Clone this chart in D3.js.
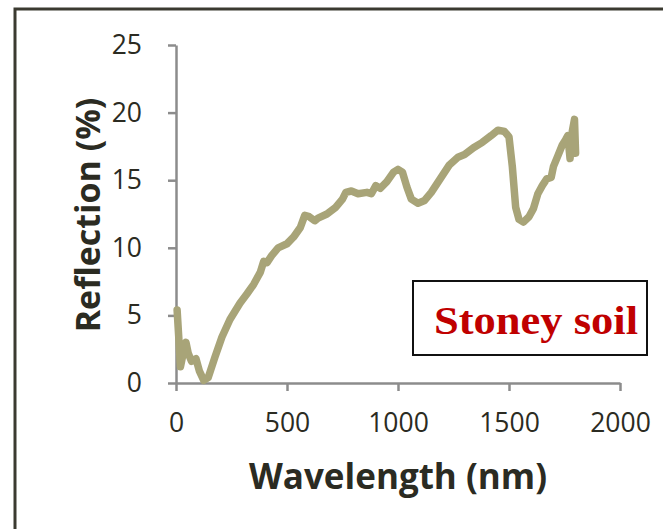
<!DOCTYPE html>
<html><head><meta charset="utf-8">
<script src="https://cdn.jsdelivr.net/npm/d3@7"></script>
<style>
html,body{margin:0;padding:0;background:#fff;}
svg{display:block;}
</style></head><body>
<svg id="c" width="663" height="529"></svg>
<script>
const wavelength = [5,12,20,30,45,55,70,90,105,125,145,175,207,243,288,320,350,380,395,410,430,460,500,530,560,580,600,625,640,680,720,750,765,790,820,860,880,900,920,950,980,1000,1020,1040,1060,1090,1120,1150,1190,1230,1270,1300,1340,1380,1420,1450,1480,1500,1515,1530,1545,1565,1590,1610,1630,1650,1670,1690,1700,1720,1740,1755,1765,1775,1785,1795,1800];
const reflection = [5.4,3.5,1.2,2.0,3.0,2.2,1.6,1.8,0.9,0.2,0.4,1.9,3.4,4.7,5.9,6.6,7.3,8.2,9.0,8.9,9.4,10.0,10.3,10.8,11.5,12.4,12.3,12.0,12.2,12.5,13.0,13.6,14.1,14.2,14.0,14.1,14.0,14.6,14.4,14.9,15.6,15.8,15.6,14.5,13.6,13.3,13.5,14.1,15.1,16.1,16.7,16.9,17.4,17.8,18.3,18.7,18.6,18.2,16.0,13.0,12.1,11.9,12.3,12.9,14.0,14.6,15.1,15.2,16.0,16.8,17.6,18.0,18.3,16.6,18.6,19.5,17.0];
const xTicks = [0,500,1000,1500,2000];
const yTicks = [0,5,10,15,20,25];
const xTitle = "Wavelength (nm)";
const yTitle = "Reflection (%)";
const label = "Stoney soil";

const svg = d3.select("#c");
svg.append("path").attr("d","M15,529 L15,9 L663,9").attr("fill","none").attr("stroke","#3b3a30").attr("stroke-width",3);

const x = d3.scaleLinear().domain([0,2000]).range([176,620]);
const y = d3.scaleLinear().domain([0,25]).range([383,45]);

const tickFont = "Open Sans, Lato, sans-serif";
const gx = svg.append("g").attr("transform","translate(0,383)")
  .call(d3.axisBottom(x).tickValues(xTicks).tickSize(8).tickSizeOuter(0).tickPadding(22).tickFormat(d3.format("d")));
const gy = svg.append("g").attr("transform","translate(176,0)")
  .call(d3.axisLeft(y).tickValues(yTicks).tickSize(8).tickSizeOuter(0).tickPadding(26).tickFormat(d3.format("d")));
[gx,gy].forEach(g=>{
  g.select(".domain").attr("stroke","#8c8c8c").attr("stroke-width",2.5);
  g.selectAll(".tick line").attr("stroke","#8c8c8c").attr("stroke-width",2.5);
  g.selectAll(".tick text").attr("fill","#2b2b22").style("font-family",tickFont).style("font-size","26.5px");
});

const data = wavelength.map((w,i)=>({w, r:reflection[i]}));
svg.append("path").datum(data)
  .attr("fill","none").attr("stroke","#a8a478").attr("stroke-width",7.5)
  .attr("stroke-linejoin","round").attr("stroke-linecap","round")
  .attr("d", d3.line().x(d=>x(d.w)).y(d=>y(d.r)));

svg.append("text").attr("x",398).attr("y",489).attr("text-anchor","middle")
  .style("font-family",tickFont).style("font-weight","bold").style("font-size","35px").attr("fill","#2b2b22").text(xTitle);
svg.append("text").attr("transform","translate(100,215) rotate(-90)").attr("text-anchor","middle")
  .style("font-family",tickFont).style("font-weight","bold").style("font-size","34px").attr("fill","#2b2b22").text(yTitle);

svg.append("rect").attr("x",413).attr("y",281).attr("width",234).attr("height",74)
  .attr("fill","#fff").attr("stroke","#111").attr("stroke-width",2);
svg.append("text").attr("x",434).attr("y",334).attr("textLength",204).attr("lengthAdjust","spacingAndGlyphs")
  .style("font-family","Liberation Serif, serif").style("font-weight","bold").style("font-size","40px").attr("fill","#c00000").text(label);
</script>
</body></html>
